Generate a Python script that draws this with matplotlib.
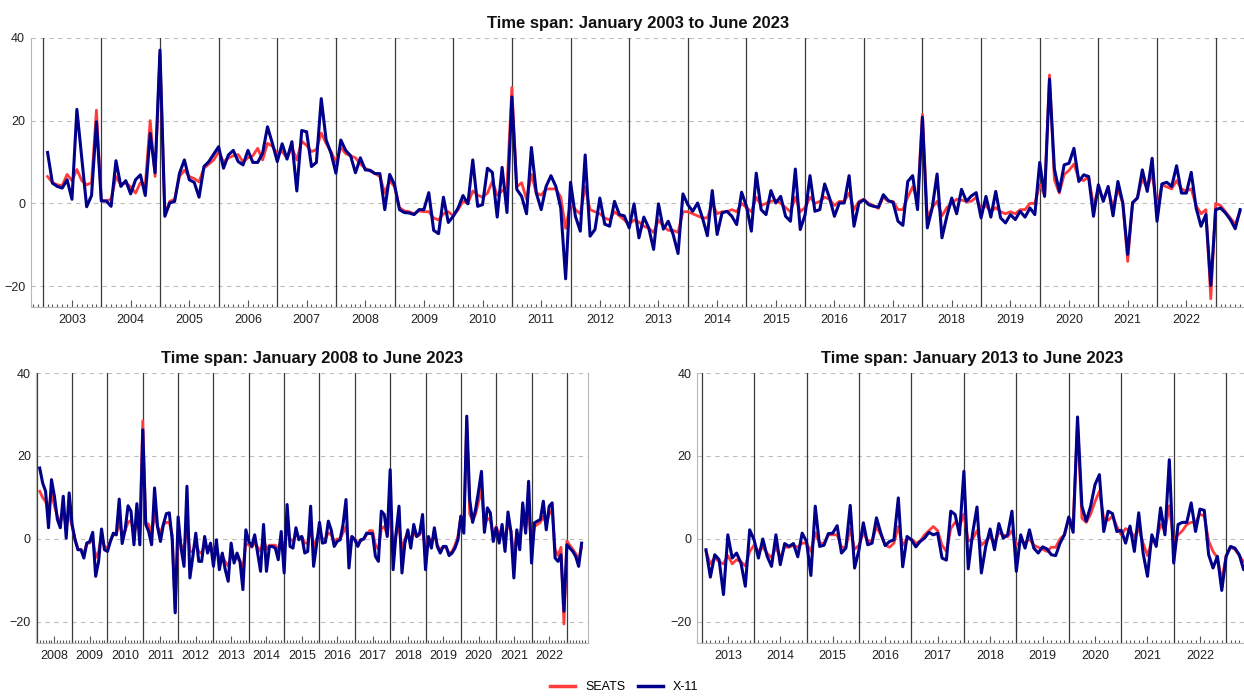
import numpy as np
import matplotlib
matplotlib.use("Agg")
import matplotlib.pyplot as plt
from matplotlib.lines import Line2D

plt.rcParams['font.family'] = ['Liberation Sans', 'DejaVu Sans']

# ── Colours ────────────────────────────────────────────────────────────────────
RED  = "#ff3b3b"
NAVY = "#00008b"
GRID = "#bdbdbd"
VLINE = "#3a3a3a"

# ── Data: monthly values, first point is February of the start year ───────────
# Span January 2003 to June 2023
seats_2003 = [
    6.5, 5, 4.5, 4.3, 7, 5.5, 8.2, 5.5, 4.5, 5, 22.5,
    0.6, 0.6, 1, 6.5, 4.5, 5, 4, 2.5, 5, 4.5, 20, 6.5,
    36, -2.5, 0.5, 1, 6.5, 8, 6.5, 6, 5.2, 8.5, 9.5, 10.5,
    12.5, 10, 11, 11.5, 11.8, 10, 11, 11.5, 13.3, 10.5, 14.5, 13.8,
    12, 12.5, 11, 13.5, 10.5, 15, 14, 12.5, 13, 17, 14.5, 12.5,
    10, 13.5, 12, 11.5, 11, 9.5, 8.5, 7.8, 7.2, 6.5, 2.5, 5.5,
    4, -1, -1.8, -2, -2.5, -1.8, -2, -2, -3.5, -4, -2.5, -2,
    -3, -1.5, 0.5, 0, 3, 2, 1.5, 2.5, 5.3, 2, 3, 4,
    28, 4, 5, 1, 7, 2.5, 2, 3.5, 3.5, 3.5, 1.5, -6,
    0, -1.5, -2.5, 4, -1.5, -2, -2.5, -3.5, -4, -2, -3, -4,
    -5, -4, -4.5, -5.5, -6, -7, -4, -5.5, -6.5, -6.5, -7, -2,
    -2, -2.5, -3, -3.5, -3.5, 0, -2.5, -2, -2, -1.5, -2, 0,
    -1, -2, 1.5, -0.5, 0, 0.5, 0.8, 0, -1, -2, 1.5, -2,
    -1, 1.5, 0, 0.5, 1.5, 1, -0.5, 0.5, 0.5, 2.5, -1.5, 0.5,
    1, 0, -0.5, -1.2, 1.5, 0.5, 0.5, -1.5, -1.5, 1.5, 4, 1,
    21.5, -3.5, -1, 0.5, -3, -1, 0, 1, 0.8, 0.5, 0.5, 1.5,
    -1.5, -0.5, -2, -1, -2, -2.5, -2, -2.5, -1.5, -1.5, 0, 0,
    4.5, 2, 31, 5.7, 2.5, 7, 8, 9.5, 6, 5.5, 6.5, -0.5,
    3.5, 1, 3.5, -1, 3.5, 0, -14, 0, 1.5, 6, 3.5, 7.5,
    -1.5, 4.5, 4, 3.5, 5.5, 3.5, 3, 3.5, -0.5, -2.5, -1.5, -23,
    0, -0.5, -2, -3.5, -5, -2,
]
x11_2003 = [
    12.3, 4.9, 4.1, 3.7, 5.7, 1.0, 22.7, 11, -0.8, 1.9, 19.7,
    0.6, 0.6, -0.7, 10.3, 4.1, 5.5, 2.3, 5.7, 6.9, 1.9, 16.9, 7.4,
    37, -3.1, 0.1, 0.5, 7.3, 10.5, 5.7, 5.1, 1.5, 8.9, 10.1, 11.9,
    13.7, 8.5, 11.7, 12.8, 10.1, 9.3, 12.8, 9.9, 9.9, 12.1, 18.5, 14.5,
    10.1, 14.4, 10.7, 14.9, 3.0, 17.6, 17.3, 8.9, 9.9, 25.3, 15.3, 12.1,
    7.3, 15.3, 12.8, 11.5, 7.4, 11.0, 8.1, 8.0, 7.2, 7.2, -1.5, 7.0,
    4.5, -1.5, -2.2, -2.3, -2.7, -1.5, -1.5, 2.6, -6.5, -7.3, 1.5, -4.6,
    -3.1, -1.1, 1.9, -0.1, 10.5, -0.7, -0.3, 8.5, 7.5, -3.3, 8.7, -2.2,
    25.7, 3.4, 1.7, -2.5, 13.5, 2.5, -1.5, 4.1, 6.7, 4.1, -1.1, -18.2,
    5.1, -3.1, -6.7, 11.7, -7.9, -6.3, 1.3, -5.0, -5.5, 0.5, -2.7, -3.0,
    -5.9, -0.1, -8.3, -3.3, -5.9, -11.1, -0.1, -6.2, -4.3, -7.5, -12.1, 2.3,
    -0.3, -1.9, 0.1, -3.5, -7.8, 3.1, -7.5, -2.3, -1.9, -3.1, -5.1, 2.7,
    -0.7, -6.7, 7.3, -1.5, -2.7, 3.1, 0.1, 1.7, -3.1, -4.3, 8.3, -6.3,
    -2.7, 6.7, -1.9, -1.5, 4.7, 1.3, -3.1, 0.1, 0.1, 6.7, -5.5, 0.1,
    0.9, -0.3, -0.7, -0.9, 2.1, 0.7, 0.2, -4.3, -5.3, 5.3, 6.7, -1.5,
    20.8, -5.9, -1.1, 7.1, -8.3, -3.1, 1.3, -2.5, 3.4, 0.5, 1.8, 2.6,
    -3.5, 1.7, -3.3, 2.9, -3.5, -4.7, -2.7, -3.9, -1.9, -3.3, -1.1, -2.7,
    9.9, 1.7, 30.0, 8.3, 2.9, 9.3, 9.7, 13.3, 5.3, 6.9, 6.5, -3.1,
    4.5, 0.5, 4.1, -3.0, 5.3, 0.1, -12.3, 0.2, 1.3, 8.1, 2.9, 10.9,
    -4.3, 4.7, 5.1, 4.1, 9.1, 2.5, 2.5, 7.5, -1.1, -5.5, -2.7, -19.8,
    -1.5, -1.1, -2.3, -3.9, -6.1, -1.5,
]

# Span January 2008 to June 2023
seats_2008 = [
    11.5, 10, 9, 7, 11, 8, 5.5, 4, 6, 3, 6,
    3, 0, -2.5, -2.5, -3.5, -1, -1, 0, -4.5, -3, 1, -2,
    -2, -0.5, 1, 1, 4, 1, 2, 4, 4.5, 1, 4, 2,
    28.5, 4, 3.5, 1, 6, 3, 1.5, 3.5, 4, 4, 1, -17.5,
    2, -1.5, -2.5, 3, -3, -3, -1, -3, -3.5, -1, -2.5, -1.5,
    -4, -2, -5, -4, -5.5, -6.5, -4, -5, -4.5, -5.5, -7, -1,
    -1.5, -2, -1, -2, -3, 0, -2.5, -1.5, -1.5, -1.5, -2.5, 0,
    -2.5, 2.5, 0, -0.5, 1, 0.5, 0.5, -1, -1, 2.5, -2, 0,
    1.5, 0, 0, 1.5, 1, -0.5, 0, 0, 1.5, 3, -2, 0.5,
    0, -1, -0.5, 0, 1, 2, 2, -1.5, -2.5, 2.5, 3, 1,
    6, -2, 1, 3, -2.5, 0, 1.5, -0.5, 1.5, 0.5, 1, 2.5,
    -3, 0.5, -1, 1, -1.5, -2.5, -2, -2, -3.5, -3, -1.5, 0.5,
    5.5, 3, 28.5, 6, 4.5, 6, 9, 12, 3, 5, 4.5, 1,
    3, 1, 2.5, -0.5, 4, 2, -4, 1.5, 0, 5, 2.5, 7.5,
    -2, 3, 3.5, 4, 5.5, 3.5, 6, 7, -2.5, -4, -2, -20.5,
    -0.5, -1.5, -2.5, -3.5, -5, -2,
]
x11_2008 = [
    17.1, 13.5, 11.5, 2.7, 14.3, 10.3, 4.7, 2.7, 10.3, 0.2, 11.1,
    3.5, -0.2, -2.6, -2.6, -4.6, -1, -0.6, 1.6, -9, -5.4, 2.4, -2.6,
    -3, -0.6, 1.4, 1, 9.6, -1.1, 2.2, 8, 6.7, -1.4, 8.5, -1.4,
    26.3, 3.5, 1.8, -1.4, 12.3, 3, -0.6, 3.5, 6.1, 6.3, -0.2, -17.8,
    5.3, -2.2, -6.6, 12.7, -9.4, -4.2, 1.4, -5.4, -5.4, 0.6, -3.4, -1,
    -6.6, -0.2, -7.4, -3.4, -7.4, -10.2, -1, -5.8, -3.4, -5.4, -12.2, 2.2,
    -0.6, -1.8, 1, -3.4, -7.8, 3.5, -7.8, -1.8, -1.8, -2.2, -5, 1.8,
    -8.2, 8.3, -1.8, -2.2, 2.7, -0.2, 0.6, -3.4, -3, 7.9, -6.6, -1.4,
    4, -1, -0.8, 4.3, 2.1, -1.8, -0.6, -0.2, 3.5, 9.5, -7, 0.6,
    -0.2, -1.8, -0.2, 0, 1.4, 1.3, 1.3, -4.2, -5.4, 6.7, 5.9, 0.6,
    16.7, -7.4, 1.4, 7.9, -8.2, -1, 2.2, -2.2, 3.5, 0.6, 1.4, 5.9,
    -7.4, 0.6, -2.2, 2.7, -1.8, -3.4, -1.8, -1.8, -4, -3.4, -2.2, -0.2,
    5.5, 1.4, 29.6, 9.5, 4, 7.1, 11.5, 16.3, 1.6, 7.5, 6.3, -0.6,
    2.7, -1, 3.5, -3, 6.5, 1.8, -9.4, 2.2, -2.6, 8.7, 1.4, 13.9,
    -5.8, 3.9, 4.3, 4.7, 9.1, 2.2, 7.9, 8.7, -4.6, -5.4, -3.8, -17.4,
    -1.4, -2.2, -3, -4.2, -6.6, -1,
]

# Span January 2013 to June 2023
seats_2013 = [
    -3, -6, -4.5, -5.5, -6, -4, -6, -5, -5.5, -6.5, -3,
    -1.5, -3, -2, -3.5, -4.5, -2, -4.5, -2, -2, -1.5, -2, -1,
    -1, -3, 1.5, -1, -1, 1, 1, 1, -2, -2, 2.5, -2.5,
    -1.5, 1.5, -0.5, -0.5, 3, 1, -1.5, -2, -1, 3, -1.5, 0,
    0, -1, -0.5, 1, 2, 3, 2, -1.5, -3, 2.5, 4, 3,
    6, -0.5, 0, 2, -1.5, -0.5, 0.5, -1, 1.5, 1, 0.5, 2,
    -1.5, -0.5, -1, 0, -1.5, -2, -2.5, -3, -2, -2, 0, 1,
    5, 4, 28, 5, 4, 6, 9, 11.5, 5, 4.5, 5.5, 3,
    1, 2.5, 2, 0.5, 2.5, -1, -4, -0.5, -0.5, 3.5, 2, 8,
    -0.5, 1, 2, 3.5, 4, 4, 6, 5.5, -0.5, -3, -4.5, -10,
    -4, -2, -2.5, -4, -5.5, -6,
]
x11_2013 = [
    -2.6, -9.2, -3.8, -5, -13.4, 1, -4.6, -3.4, -5.8, -11.4, 2.2,
    -0.2, -4.6, 0, -4.2, -6.6, 1, -6.2, -1.1, -1.8, -1.1, -4.3, 1.4,
    -0.6, -8.8, 7.9, -1.8, -1.5, 1.3, 1.4, 3.2, -3.4, -2.2, 8.1, -7,
    -2.6, 3.9, -1.4, -1, 5.1, 1.4, -1.6, -0.6, -0.2, 9.9, -6.7, 0.6,
    -0.2, -1.9, -0.6, 0.2, 1.6, 1, 1.4, -4.6, -5.1, 6.7, 5.9, 1,
    16.3, -7.2, 1.4, 7.7, -8.2, -1.8, 2.4, -2.6, 3.7, 0.2, 1, 6.7,
    -7.8, 1, -2.2, 2.2, -2.2, -3.4, -1.9, -2.4, -3.8, -4, -1, 1,
    5.3, 1.6, 29.4, 7.9, 4.3, 7.9, 13.1, 15.5, 1.8, 6.7, 6.1, 1.8,
    2.1, -1, 3.1, -3, 6.3, -3.4, -9, 1, -1.8, 7.5, 1, 19.1,
    -5.8, 3.5, 4, 4, 8.7, 1.8, 7.2, 6.9, -3.8, -7, -4.2, -12.4,
    -4.2, -1.8, -2.2, -3.8, -7.4, -7,
]

# ── Figure ─────────────────────────────────────────────────────────────────────
W, H = 1244, 697
fig = plt.figure(figsize=(W / 100, H / 100), dpi=100, facecolor="white")


def px_axes(left, top, right, bottom):
    return fig.add_axes([left / W, 1 - bottom / H, (right - left) / W, (bottom - top) / H])


def draw_panel(ax, start_year, seats, x11, xlim, last_label, title):
    t = start_year + (1 + np.arange(len(seats))) / 12.0
    ax.set_xlim(*xlim)
    ax.set_ylim(-25, 40)

    ax.set_yticks([-20, 0, 20, 40])
    ax.yaxis.grid(True, color=GRID, linestyle=(0, (4, 4)), linewidth=0.8)
    ax.set_axisbelow(True)

    for yr in range(int(np.ceil(xlim[0])), int(xlim[1]) + 1):
        ax.axvline(yr, color=VLINE, linewidth=0.9, zorder=1)

    ax.plot(t, seats, color=RED, linewidth=2.0, zorder=3, solid_joinstyle="round")
    ax.plot(t, x11, color=NAVY, linewidth=2.2, zorder=4, solid_joinstyle="round")

    years = np.arange(start_year, last_label + 1)
    ax.set_xticks(years + 0.5)
    ax.set_xticklabels([str(y) for y in years])
    months = np.arange(np.ceil(xlim[0] * 12), xlim[1] * 12 + 1) / 12.0
    ax.set_xticks(months, minor=True)
    ax.tick_params(axis="x", which="major", direction="in", length=5, width=0.8,
                   color="#555555", labelsize=9, pad=5, labelcolor="#222222")
    ax.tick_params(axis="x", which="minor", direction="in", length=2.5, width=0.8,
                   color="#555555")
    ax.tick_params(axis="y", length=0, labelsize=9, pad=4, labelcolor="#222222")

    for side in ["left", "bottom", "right"]:
        ax.spines[side].set_color("#b8b8b8")
        ax.spines[side].set_linewidth(0.8)
    ax.spines["top"].set_visible(False)

    ax.set_title(title, fontsize=12, fontweight="bold", pad=7, color="#111111")


ax_top = px_axes(30.7, 37.7, 1245, 307)
draw_panel(ax_top, 2003, seats_2003, x11_2003, (2002.796, 2023.45), 2022,
           "Time span: January 2003 to June 2023")

ax_bl = px_axes(36.4, 373, 587.5, 642.7)
draw_panel(ax_bl, 2008, seats_2008, x11_2008, (2007.99, 2023.53), 2022,
           "Time span: January 2008 to June 2023")

ax_br = px_axes(697, 373, 1248, 642.7)
draw_panel(ax_br, 2013, seats_2013, x11_2013, (2012.912, 2023.41), 2022,
           "Time span: January 2013 to June 2023")

# ── Legend ─────────────────────────────────────────────────────────────────────
handles = [Line2D([], [], color=RED, linewidth=2.5),
           Line2D([], [], color=NAVY, linewidth=2.5)]
fig.legend(handles, ["SEATS", "X-11"], loc="center", bbox_to_anchor=(0.502, 0.014),
           ncol=2, frameon=False, fontsize=9, handlelength=2.0, columnspacing=1.0,
           handletextpad=0.8)

fig.savefig("out.png", dpi=100)
